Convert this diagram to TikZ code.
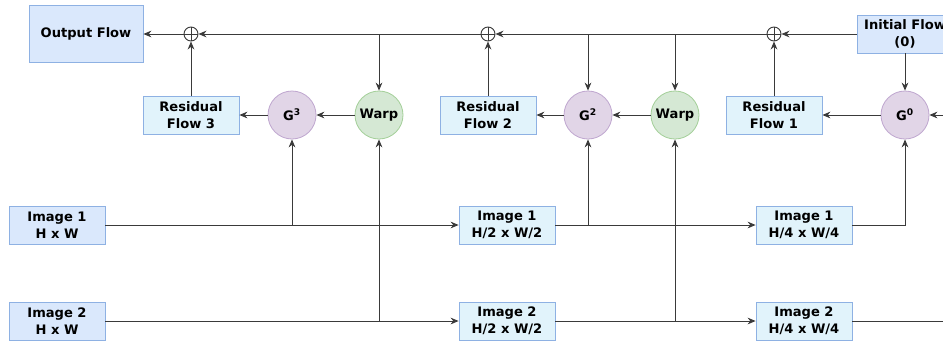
\documentclass[tikz,border=0pt]{standalone}
\usepackage{fontspec}
\setmainfont{DejaVu Sans}
\usetikzlibrary{arrows.meta, calc}

\definecolor{boxfill}{HTML}{DAE8FC}
\definecolor{boxline}{HTML}{8EB1E3}
\definecolor{lightfill}{HTML}{E1F3FB}
\definecolor{gfill}{HTML}{E1D5E7}
\definecolor{gline}{HTML}{BFA6CF}
\definecolor{wfill}{HTML}{D5E8D4}
\definecolor{wline}{HTML}{A3CF98}
\definecolor{wire}{HTML}{3A3A3A}

\begin{document}
\begin{tikzpicture}[
			x = 0.75pt, y = -0.75pt,
			every node/.style = {font = \fontsize{9.8}{12.5}\selectfont\bfseries, align = center, inner sep = 0pt},
			flowbox/.style = {draw = boxline, fill = boxfill, line width = 0.6pt, minimum width = 72pt, minimum height = 28.5pt},
			lightbox/.style = {flowbox, fill = lightfill},
			gnode/.style = {circle, draw = gline, fill = gfill, line width = 0.6pt, minimum size = 36pt},
			warpnode/.style = {gnode, draw = wline, fill = wfill},
			sumnode/.style = {circle, draw = wire, line width = 0.7pt, minimum size = 10.5pt,
				path picture = {\draw[wire, line width = 0.7pt] (path picture bounding box.north) -- (path picture bounding box.south)
					(path picture bounding box.west) -- (path picture bounding box.east);}},
			arr/.style = {wire, line width = 0.7pt, -{Stealth[length = 6pt, width = 5pt]}},
			wireline/.style = {wire, line width = 0.7pt}]
			\useasboundingbox[fill = white] (0,0) rectangle (943,347);

			% top row: flows and sums
			\node[flowbox, minimum width = 85.5pt, minimum height = 42.75pt] (out) at (86,34) {Output Flow};
			\node[sumnode] (s1) at (191,34) {};
			\node[sumnode] (s2) at (488,34) {};
			\node[sumnode] (s3) at (774,34) {};
			\node[flowbox] (init) at (905,34) {Initial Flow\\(0)};

			% middle row: estimators and warps
			\node[lightbox] (r3) at (191,115) {Residual\\Flow 3};
			\node[gnode] (g3) at (292,115) {G\textsuperscript{3}};
			\node[warpnode] (w1) at (379,115) {Warp};
			\node[lightbox] (r2) at (488,115) {Residual\\Flow 2};
			\node[gnode] (g2) at (588,115) {G\textsuperscript{2}};
			\node[warpnode] (w2) at (675,115) {Warp};
			\node[lightbox] (r1) at (774,115) {Residual\\Flow 1};
			\node[gnode] (g0) at (905,115) {G\textsuperscript{0}};

			% image pyramid
			\node[flowbox] (i1a) at (57,225) {Image 1\\H x W};
			\node[flowbox] (i2a) at (57,321) {Image 2\\H x W};
			\node[lightbox] (i1b) at (507,225) {Image 1\\H/2 x W/2};
			\node[lightbox] (i2b) at (507,321) {Image 2\\H/2 x W/2};
			\node[lightbox] (i1c) at (804,225) {Image 1\\H/4 x W/4};
			\node[lightbox] (i2c) at (804,321) {Image 2\\H/4 x W/4};
			\coordinate (gin) at (960,115);
			\coordinate (iout) at (960,321);

			% flow path
			\draw[arr] (init.west) -- (s3.east);
			\draw[arr] (init.south) -- (g0.north);
			\draw[arr] (s3.west) -- (s2.east);
			\draw[arr] (s2.west) -- (s1.east);
			\draw[arr] (s1.west) -- (out.east);
			\draw[arr] (w2 |- s3) -- (w2.north);
			\draw[arr] (g2 |- s3) -- (g2.north);
			\draw[arr] (w1 |- s2) -- (w1.north);
			\draw[arr] (r1.north) -- (s3.south);
			\draw[arr] (r2.north) -- (s2.south);
			\draw[arr] (r3.north) -- (s1.south);

			% estimator chain
			\draw[arr] (gin) -- (g0.east);
			\draw[arr] (g0.west) -- (r1.east);
			\draw[arr] (w2.west) -- (g2.east);
			\draw[arr] (g2.west) -- (r2.east);
			\draw[arr] (w1.west) -- (g3.east);
			\draw[arr] (g3.west) -- (r3.east);

			% images
			\draw[arr] (i1a.east) -- (i1b.west);
			\draw[arr] (i2a.east) -- (i2b.west);
			\draw[arr] (i1b.east) -- (i1c.west);
			\draw[arr] (i2b.east) -- (i2c.west);
			\draw[arr] (g3 |- i1a) -- (g3.south);
			\draw[arr] (w1 |- i2a) -- (w1.south);
			\draw[arr] (g2 |- i1b) -- (g2.south);
			\draw[arr] (w2 |- i2b) -- (w2.south);
			\draw[arr] (i1c.east) -| (g0.south);
			\draw[wireline] (i2c.east) -- (iout);
		\end{tikzpicture}
\end{document}
